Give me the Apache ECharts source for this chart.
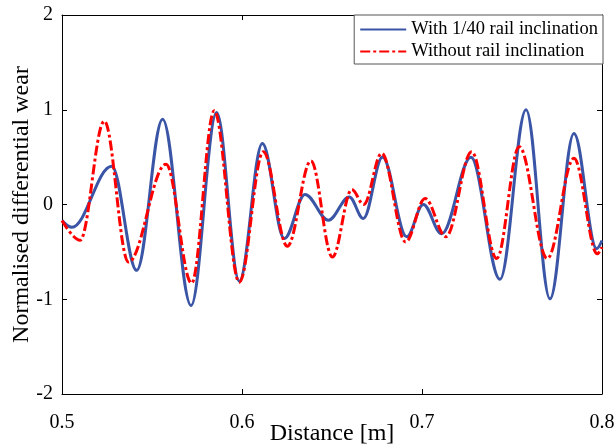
<!DOCTYPE html>
<html>
<head>
<meta charset="utf-8">
<script src="https://cdn.jsdelivr.net/npm/echarts@6/dist/echarts.min.js"></script>
<style>
html,body{margin:0;padding:0;background:#fff;}
#chart{width:615px;height:446px;}
</style>
</head>
<body>
<div id="chart"></div>
<script>
// Data (local extrema of each curve)
const blueName = 'With 1/40 rail inclination';
const redName = 'Without rail inclination';
const blueX = [0.5, 0.5055, 0.5276, 0.5415, 0.5559, 0.5717, 0.5859, 0.5985, 0.6113, 0.6235, 0.635, 0.648, 0.6596, 0.6674, 0.6781, 0.6915, 0.7007, 0.7109, 0.7272, 0.7433, 0.7578, 0.7711, 0.7844, 0.797, 0.8];
const blueY = [-0.17, -0.24, 0.405, -0.695, 0.90, -1.066, 0.97, -0.81, 0.645, -0.36, 0.106, -0.166, 0.08, -0.148, 0.50, -0.34, 0.0, -0.31, 0.50, -0.79, 1.0, -0.995, 0.75, -0.466, -0.38];
const redX = [0.5, 0.51, 0.5235, 0.5369, 0.5578, 0.572, 0.5846, 0.5985, 0.6118, 0.6252, 0.6383, 0.6502, 0.661, 0.6676, 0.6776, 0.6909, 0.7017, 0.7133, 0.7276, 0.7415, 0.754, 0.7696, 0.7844, 0.7974, 0.8];
const redY = [-0.17, -0.378, 0.88, -0.607, 0.426, -0.83, 0.99, -0.82, 0.557, -0.44, 0.46, -0.554, 0.158, 0.0, 0.54, -0.395, 0.063, -0.34, 0.557, -0.57, 0.61, -0.57, 0.487, -0.52, -0.45];
const xTicks = [0.5, 0.6, 0.7, 0.8];
const yTicks = [-2, -1, 0, 1, 2];

const zip = (xs, ys) => xs.map((x, i) => [x, ys[i]]);
const font = 'Liberation Serif';

const axisCommon = {
  axisLine: {show: true, onZero: false, lineStyle: {color: '#000', width: 1}},
  axisTick: {show: true, inside: true, length: 5, lineStyle: {color: '#000', width: 1}},
  splitLine: {show: false}
};

const chart = echarts.init(document.getElementById('chart'), null, {renderer: 'canvas'});
chart.setOption({
  animation: false,
  backgroundColor: '#fff',
  grid: {left: 62, right: 13, top: 15, bottom: 52, containLabel: false, outerBoundsMode: 'none'},
  legend: {
    orient: 'vertical',
    right: 12, top: 15,
    itemWidth: 46, itemHeight: 14, itemGap: 3,
    padding: [5, 5, 3, 5],
    borderColor: '#555', borderWidth: 1, borderRadius: 0,
    backgroundColor: '#fff',
    itemStyle: {color: 'rgba(0,0,0,0)', borderWidth: 0, opacity: 0},
    textStyle: {fontFamily: font, fontSize: 18.5, color: '#000'},
    data: [blueName, redName]
  },
  xAxis: [
    Object.assign({
      type: 'value', position: 'bottom',
      min: xTicks[0], max: xTicks[xTicks.length - 1], interval: 0.1,
      name: 'Distance [m]', nameLocation: 'middle', nameGap: 28, nameMoveOverlap: false,
      nameTextStyle: {fontFamily: font, fontSize: 24, color: '#000'},
      axisLabel: {fontFamily: font, fontSize: 20, color: '#000', margin: 19,
        formatter: v => (Math.round(v * 10) / 10).toFixed(1)}
    }, axisCommon),
    Object.assign({
      type: 'value', position: 'top',
      min: xTicks[0], max: xTicks[xTicks.length - 1], interval: 0.1,
      axisLabel: {show: false}
    }, axisCommon)
  ],
  yAxis: [
    Object.assign({
      type: 'value', position: 'left',
      min: yTicks[0], max: yTicks[yTicks.length - 1], interval: 1,
      name: 'Normalised differential wear', nameLocation: 'middle', nameGap: 28, nameMoveOverlap: false,
      nameTextStyle: {fontFamily: font, fontSize: 24, color: '#000'},
      axisLabel: {fontFamily: font, fontSize: 20, color: '#000', margin: 9}
    }, axisCommon),
    Object.assign({
      type: 'value', position: 'right',
      min: yTicks[0], max: yTicks[yTicks.length - 1], interval: 1,
      axisLabel: {show: false}
    }, axisCommon)
  ],
  series: [
    {
      name: blueName, type: 'line', xAxisIndex: 0, yAxisIndex: 0,
      data: zip(blueX, blueY),
      smooth: 0.36, smoothMonotone: 'x',
      symbol: 'none', showSymbol: false,
      color: '#3b55a6',
      lineStyle: {color: '#3b55a6', width: 3}
    },
    {
      name: redName, type: 'line', xAxisIndex: 0, yAxisIndex: 0,
      data: zip(redX, redY),
      smooth: 0.36, smoothMonotone: 'x',
      symbol: 'none', showSymbol: false,
      color: '#ff0000',
      lineStyle: {color: '#ff0000', width: 3, type: [10, 3, 3, 3]}
    }
  ]
});
</script>
</body>
</html>
